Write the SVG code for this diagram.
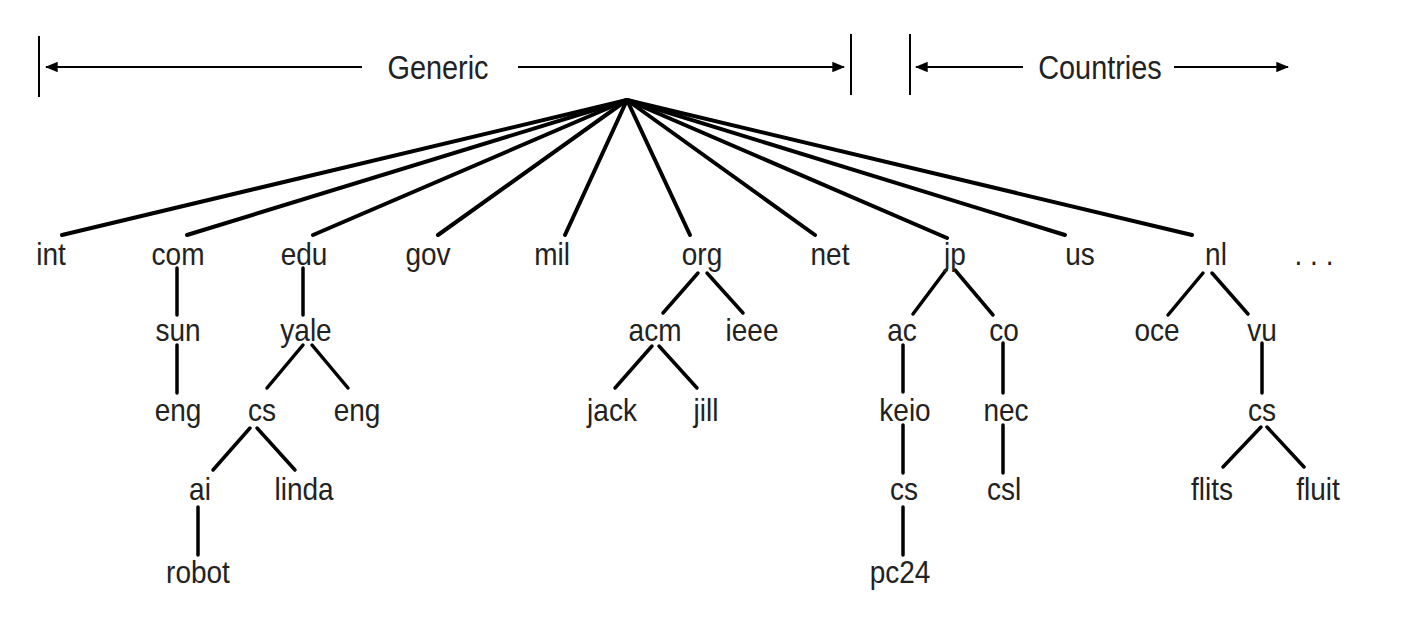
<svg xmlns="http://www.w3.org/2000/svg" width="1411" height="644" viewBox="0 0 1411 644">
<style>
text{font-family:"Liberation Sans",Arial,sans-serif;fill:#222;text-anchor:middle}
.n{font-size:32px}
.h{font-size:33px}
.e{stroke:#000;stroke-width:3.5;stroke-linecap:round;fill:none}
.r{stroke:#000;stroke-width:4;stroke-linecap:round;fill:none}
.a{stroke:#000;stroke-width:2;fill:none}
.b{stroke:#000;stroke-width:2}
</style>
<defs>
<marker id="ah" viewBox="0 0 10 8" refX="9" refY="4" markerWidth="6.5" markerHeight="5.2" orient="auto-start-reverse" markerUnits="strokeWidth">
<path d="M0,0 L10,4 L0,8 Z" fill="#000"/>
</marker>
</defs>
<g id="header">
<line class="b" x1="39" y1="36" x2="39" y2="97"/>
<line class="b" x1="851" y1="34" x2="851" y2="95"/>
<line class="b" x1="910" y1="34" x2="910" y2="95"/>
<line class="a" x1="362" y1="67" x2="46" y2="67" marker-end="url(#ah)"/>
<line class="a" x1="518" y1="67" x2="844" y2="67" marker-end="url(#ah)"/>
<line class="a" x1="1023" y1="67" x2="916" y2="67" marker-end="url(#ah)"/>
<line class="a" x1="1174" y1="67" x2="1288" y2="67" marker-end="url(#ah)"/>
<text class="h" transform="translate(438,79) scale(.875,1)">Generic</text>
<text class="h" transform="translate(1100,79) scale(.875,1)">Countries</text>
</g>
<g id="connectors">
<line class="r" x1="627" y1="100" x2="62" y2="235"/>
<line class="r" x1="627" y1="100" x2="187" y2="235"/>
<line class="r" x1="627" y1="100" x2="313" y2="235"/>
<line class="r" x1="627" y1="100" x2="438" y2="235"/>
<line class="r" x1="627" y1="100" x2="565" y2="235"/>
<line class="r" x1="627" y1="100" x2="690" y2="235"/>
<line class="r" x1="627" y1="100" x2="815" y2="235"/>
<line class="r" x1="627" y1="100" x2="947" y2="238"/>
<line class="r" x1="627" y1="100" x2="1065" y2="235"/>
<line class="r" x1="627" y1="100" x2="1192" y2="235"/>
<line class="e" x1="177" y1="268" x2="177" y2="315"/>
<line class="e" x1="177" y1="345" x2="177" y2="393"/>
<line class="e" x1="303" y1="268" x2="303" y2="315"/>
<line class="e" x1="303" y1="345" x2="267" y2="388"/>
<line class="e" x1="312" y1="345" x2="348" y2="388"/>
<line class="e" x1="250" y1="428" x2="213" y2="470"/>
<line class="e" x1="257" y1="428" x2="295" y2="470"/>
<line class="e" x1="198" y1="507" x2="198" y2="555"/>
<line class="e" x1="698" y1="273" x2="663" y2="313"/>
<line class="e" x1="707" y1="273" x2="743" y2="313"/>
<line class="e" x1="652" y1="346" x2="615" y2="388"/>
<line class="e" x1="659" y1="346" x2="697" y2="388"/>
<line class="e" x1="946" y1="270" x2="913" y2="314"/>
<line class="e" x1="955" y1="270" x2="993" y2="315"/>
<line class="e" x1="903" y1="345" x2="903" y2="392"/>
<line class="e" x1="1003" y1="343" x2="1003" y2="393"/>
<line class="e" x1="903" y1="425" x2="903" y2="473"/>
<line class="e" x1="903" y1="507" x2="903" y2="555"/>
<line class="e" x1="1003" y1="425" x2="1003" y2="473"/>
<line class="e" x1="1203" y1="273" x2="1168" y2="315"/>
<line class="e" x1="1212" y1="273" x2="1248" y2="314"/>
<line class="e" x1="1262" y1="343" x2="1262" y2="393"/>
<line class="e" x1="1261" y1="427" x2="1223" y2="467"/>
<line class="e" x1="1267" y1="427" x2="1304" y2="467"/>
</g>
<g id="n-int"><text class="n" transform="translate(51,265) scale(.875,1)">int</text></g>
<g id="n-com"><text class="n" transform="translate(178,265) scale(.875,1)">com</text></g>
<g id="n-edu"><text class="n" transform="translate(304,265) scale(.875,1)">edu</text></g>
<g id="n-gov"><text class="n" transform="translate(428,265) scale(.875,1)">gov</text></g>
<g id="n-mil"><text class="n" transform="translate(552,265) scale(.875,1)">mil</text></g>
<g id="n-org"><text class="n" transform="translate(702,265) scale(.875,1)">org</text></g>
<g id="n-net"><text class="n" transform="translate(830,265) scale(.875,1)">net</text></g>
<g id="n-jp"><text class="n" transform="translate(955,265) scale(.875,1)">jp</text></g>
<g id="n-us"><text class="n" transform="translate(1080,265) scale(.875,1)">us</text></g>
<g id="n-nl"><text class="n" transform="translate(1216,265) scale(.875,1)">nl</text></g>
<g id="n-more"><text class="n" transform="translate(1314,265) scale(.875,1)">. . .</text></g>
<g id="n-sun"><text class="n" transform="translate(178,341) scale(.875,1)">sun</text></g>
<g id="n-yale"><text class="n" transform="translate(306,341) scale(.875,1)">yale</text></g>
<g id="n-acm"><text class="n" transform="translate(655,341) scale(.875,1)">acm</text></g>
<g id="n-ieee"><text class="n" transform="translate(752,341) scale(.875,1)">ieee</text></g>
<g id="n-ac"><text class="n" transform="translate(902,341) scale(.875,1)">ac</text></g>
<g id="n-co"><text class="n" transform="translate(1004,341) scale(.875,1)">co</text></g>
<g id="n-oce"><text class="n" transform="translate(1157,341) scale(.875,1)">oce</text></g>
<g id="n-vu"><text class="n" transform="translate(1262,341) scale(.875,1)">vu</text></g>
<g id="n-sun-eng"><text class="n" transform="translate(178,421) scale(.875,1)">eng</text></g>
<g id="n-yale-cs"><text class="n" transform="translate(262,421) scale(.875,1)">cs</text></g>
<g id="n-yale-eng"><text class="n" transform="translate(357,421) scale(.875,1)">eng</text></g>
<g id="n-jack"><text class="n" transform="translate(612,421) scale(.875,1)">jack</text></g>
<g id="n-jill"><text class="n" transform="translate(706,421) scale(.875,1)">jill</text></g>
<g id="n-keio"><text class="n" transform="translate(905,421) scale(.875,1)">keio</text></g>
<g id="n-nec"><text class="n" transform="translate(1006,421) scale(.875,1)">nec</text></g>
<g id="n-vu-cs"><text class="n" transform="translate(1262,421) scale(.875,1)">cs</text></g>
<g id="n-ai"><text class="n" transform="translate(200,500) scale(.875,1)">ai</text></g>
<g id="n-linda"><text class="n" transform="translate(304,500) scale(.875,1)">linda</text></g>
<g id="n-keio-cs"><text class="n" transform="translate(904,500) scale(.875,1)">cs</text></g>
<g id="n-csl"><text class="n" transform="translate(1004,500) scale(.875,1)">csl</text></g>
<g id="n-flits"><text class="n" transform="translate(1212,500) scale(.875,1)">flits</text></g>
<g id="n-fluit"><text class="n" transform="translate(1318,500) scale(.875,1)">fluit</text></g>
<g id="n-robot"><text class="n" transform="translate(198,583) scale(.875,1)">robot</text></g>
<g id="n-pc24"><text class="n" transform="translate(900,583) scale(.875,1)">pc24</text></g>
</svg>
